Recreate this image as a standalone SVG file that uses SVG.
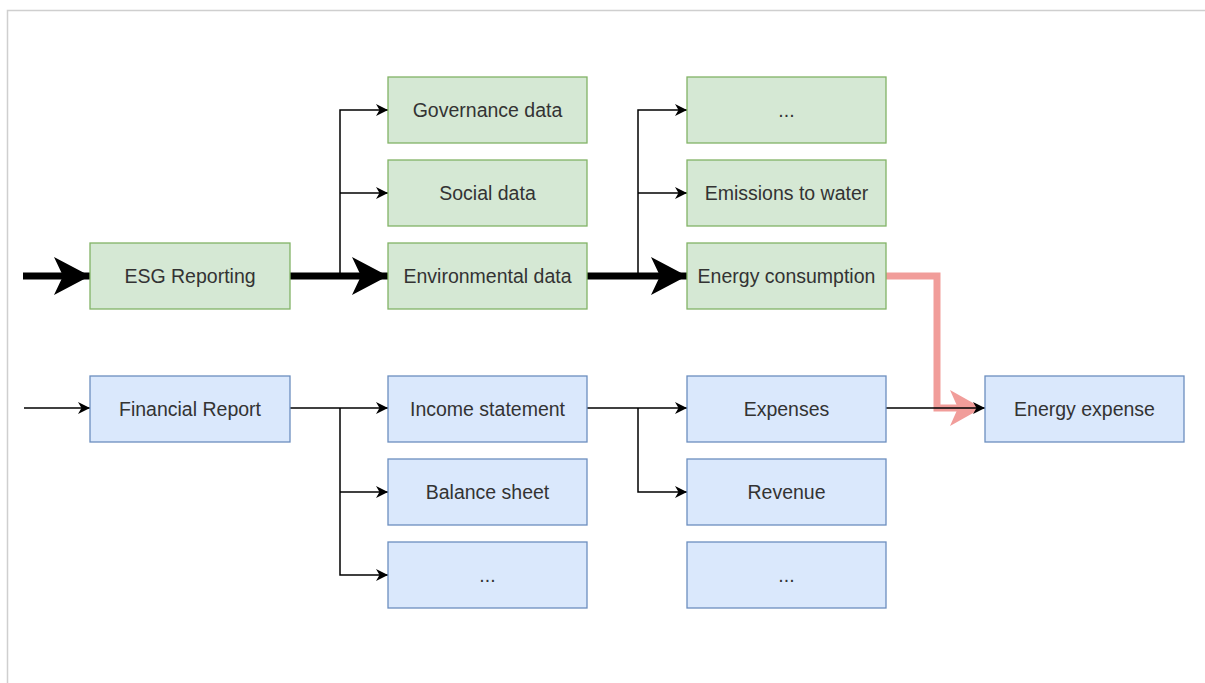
<svg xmlns="http://www.w3.org/2000/svg" width="1205" height="683" viewBox="0 0 1205 683">
<style>
.g rect{fill:#d5e8d4;stroke:#82b366;stroke-width:1.3}
.b rect{fill:#dae8fc;stroke:#6c8ebf;stroke-width:1.3}
text{font-family:"Liberation Sans",Arial,Helvetica,sans-serif;font-size:19.5px;fill:#333;text-anchor:middle}
.thin{fill:none;stroke:#000;stroke-width:1.5}
.thick{fill:none;stroke:#000;stroke-width:7}
.red{fill:none;stroke:#f19d9a;stroke-width:7}
</style>
<defs>
<marker id="aThin" markerUnits="userSpaceOnUse" markerWidth="13" markerHeight="13" refX="12" refY="6.5" orient="auto" overflow="visible">
<path d="M0,0.5 L12,6.5 L0,12.5 L3.5,6.5 Z" fill="#000"/>
</marker>
<marker id="aThick" markerUnits="userSpaceOnUse" markerWidth="37" markerHeight="38" refX="36" refY="19" orient="auto" overflow="visible">
<path d="M0,0 L36,19 L0,38 L9,19 Z" fill="#000"/>
</marker>
</defs>
<rect x="0" y="0" width="1205" height="683" fill="#fff"/>
<path d="M7.5,683 L7.5,10.5 L1205,10.5" fill="none" stroke="#cfcfcf" stroke-width="1.5"/>

<g id="connectors">
<path class="red" d="M886,276 L937,276 L937,408 L958,408"/>
<path d="M950,390 L982,408 L950,426 L958,408 Z" fill="#f19d9a"/>
<path class="thick" d="M23,276 L90,276" marker-end="url(#aThick)"/>
<path class="thick" d="M290,276 L388,276" marker-end="url(#aThick)"/>
<path class="thick" d="M587,276 L687,276" marker-end="url(#aThick)"/>
<path class="thin" d="M340,276 L340,110 L388,110" marker-end="url(#aThin)"/>
<path class="thin" d="M340,193 L388,193" marker-end="url(#aThin)"/>
<path class="thin" d="M638,276 L638,110 L687,110" marker-end="url(#aThin)"/>
<path class="thin" d="M638,193 L687,193" marker-end="url(#aThin)"/>
<path class="thin" d="M24,408 L90,408" marker-end="url(#aThin)"/>
<path class="thin" d="M290,408 L388,408" marker-end="url(#aThin)"/>
<path class="thin" d="M340,408 L340,575 L388,575" marker-end="url(#aThin)"/>
<path class="thin" d="M340,492 L388,492" marker-end="url(#aThin)"/>
<path class="thin" d="M587,408 L687,408" marker-end="url(#aThin)"/>
<path class="thin" d="M638,408 L638,492 L687,492" marker-end="url(#aThin)"/>
<path class="thin" d="M886,408 L985,408" marker-end="url(#aThin)"/>
</g>

<g id="esg" class="g"><rect x="90" y="243" width="200" height="66"/><text x="190" y="283">ESG Reporting</text></g>
<g id="governance" class="g"><rect x="388" y="77" width="199" height="66"/><text x="487.5" y="117">Governance data</text></g>
<g id="social" class="g"><rect x="388" y="160" width="199" height="66"/><text x="487.5" y="200">Social data</text></g>
<g id="environmental" class="g"><rect x="388" y="243" width="199" height="66"/><text x="487.5" y="283">Environmental data</text></g>
<g id="env-more" class="g"><rect x="687" y="77" width="199" height="66"/><text x="786.5" y="117">...</text></g>
<g id="emissions" class="g"><rect x="687" y="160" width="199" height="66"/><text x="786.5" y="200">Emissions to water</text></g>
<g id="energy-consumption" class="g"><rect x="687" y="243" width="199" height="66"/><text x="786.5" y="283">Energy consumption</text></g>

<g id="financial" class="b"><rect x="90" y="376" width="200" height="66"/><text x="190" y="416">Financial Report</text></g>
<g id="income" class="b"><rect x="388" y="376" width="199" height="66"/><text x="487.5" y="416">Income statement</text></g>
<g id="balance" class="b"><rect x="388" y="459" width="199" height="66"/><text x="487.5" y="499">Balance sheet</text></g>
<g id="fin-more" class="b"><rect x="388" y="542" width="199" height="66"/><text x="487.5" y="582">...</text></g>
<g id="expenses" class="b"><rect x="687" y="376" width="199" height="66"/><text x="786.5" y="416">Expenses</text></g>
<g id="revenue" class="b"><rect x="687" y="459" width="199" height="66"/><text x="786.5" y="499">Revenue</text></g>
<g id="inc-more" class="b"><rect x="687" y="542" width="199" height="66"/><text x="786.5" y="582">...</text></g>
<g id="energy-expense" class="b"><rect x="985" y="376" width="199" height="66"/><text x="1084.5" y="416">Energy expense</text></g>
</svg>
